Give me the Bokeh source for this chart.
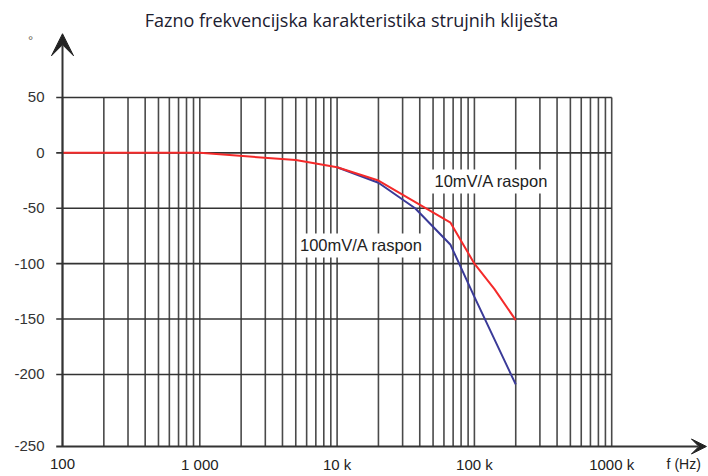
from bokeh.plotting import figure
from bokeh.models import Range1d, Label, Arrow, VeeHead
from bokeh.core.properties import value
from bokeh.embed import file_html
from bokeh.resources import INLINE

# ---------------- data ----------------
title_text = "Fazno frekvencijska karakteristika strujnih kliješta"

x_tick_values = [100, 1000, 10000, 100000, 1000000]
x_tick_labels = ["100", "1 000", "10 k", "100 k", "1000 k"]
x_axis_title = "f (Hz)"

y_tick_values = [50, 0, -50, -100, -150, -200]
y_tick_labels = ["50", "0", "-50", "-100", "-150", "-200"]
y_bottom_label = "-250"
y_unit = "°"

# vertical grid lines: 1..9 x each decade, 100 Hz .. 1 MHz
grid_freqs = [m * 10 ** e for e in range(2, 6) for m in range(1, 10)] + [10 ** 6]

# 10 mV/A range (red)
freq_10mV = [100, 1000, 5000, 10000, 20000, 67000, 100000, 140000, 200000]
phase_10mV = [0, 0, -6.5, -13, -25, -63, -100, -123, -151]

# 100 mV/A range (blue)
freq_100mV = [10000, 20000, 37000, 67000, 100000, 200000]
phase_100mV = [-13, -27, -50, -83, -130, -209]

label_10mV = "10mV/A raspon"
label_100mV = "100mV/A raspon"

# ---------------- layout constants ----------------
axis_y = -265          # position of the horizontal axis line
font = "Liberation Sans"

p = figure(width=708, height=476, x_axis_type="log",
           x_range=Range1d(10 ** 1.5484, 10 ** 6.705),
           y_range=Range1d(-292.1, 137.5),
           x_axis_location=None, y_axis_location=None,
           output_backend="svg", toolbar_location=None, min_border=0)
p.outline_line_color = None
p.grid.visible = False
p.background_fill_color = "white"

# grid
p.segment(x0=grid_freqs, y0=[axis_y] * len(grid_freqs), x1=grid_freqs,
          y1=[50] * len(grid_freqs), line_color="#4a4a4a", line_width=1.6)
p.segment(x0=[90] * len(y_tick_values), y0=y_tick_values,
          x1=[10 ** 6] * len(y_tick_values), y1=y_tick_values,
          line_color="#333333", line_width=1.6)

# axes with arrows
p.add_layout(Arrow(x_start=90, y_start=axis_y, x_end=10 ** 6.69, y_end=axis_y,
                   line_color="#333333", line_width=2,
                   end=VeeHead(size=15, fill_color="#222222", line_color="#222222")))
p.add_layout(Arrow(x_start=100, y_start=axis_y, x_end=100, y_end=107.5,
                   line_color="#333333", line_width=2,
                   end=VeeHead(size=22, fill_color="#222222", line_color="#222222")))

# curves
p.line(freq_100mV, phase_100mV, line_color="#3a3a98", line_width=2)
p.line(freq_10mV, phase_10mV, line_color="#f42a2a", line_width=2)

# y tick labels
p.text(x=[100] * (len(y_tick_values) + 1), y=y_tick_values + [axis_y],
       text=y_tick_labels + [y_bottom_label], x_offset=-18,
       text_align="right", text_baseline="middle",
       text_font=value(font), text_font_size="15px", text_color="#333333")
p.text(x=[100], y=[101], text=[y_unit], x_offset=-32, text_align="center",
       text_baseline="middle", text_font=value(font), text_font_size="13px",
       text_color="#6a6050")

# x tick labels
p.text(x=x_tick_values, y=[axis_y] * len(x_tick_values), text=x_tick_labels,
       y_offset=18, text_align="center", text_baseline="middle",
       text_font=value(font), text_font_size="15px", text_color="#222222")
p.text(x=[10 ** 6], y=[axis_y], text=[x_axis_title], x_offset=72, y_offset=18,
       text_align="center", text_baseline="middle",
       text_font=value(font), text_font_size="14px", text_color="#222222")

# title
p.text(x=[10 ** 4.105], y=[119.5], text=[title_text], text_align="center",
       text_baseline="middle", text_font=value("Open Sans"),
       text_font_size="18px", text_color="#1c2030")

# series labels
p.add_layout(Label(x=48700, y=-25.8, text=label_10mV, text_baseline="middle",
                   text_font=font, text_font_size="16.5px", text_color="#222222",
                   background_fill_color="white", padding=3))
p.add_layout(Label(x=5100, y=-83.6, text=label_100mV, text_baseline="middle",
                   text_font=font, text_font_size="16.5px", text_color="#222222",
                   background_fill_color="white", padding=3))

open("out.html", "w").write(file_html(p, INLINE))
